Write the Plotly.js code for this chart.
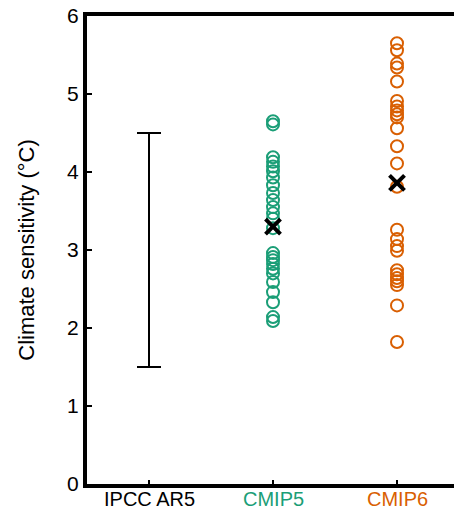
<!DOCTYPE html>
<html>
<head>
<meta charset="utf-8">
<script src="https://cdn.plot.ly/plotly-3.0.1.min.js"></script>
<style>
html,body{margin:0;padding:0;overflow:hidden;background:#fff;}
#chart{width:470px;height:513px;}
</style>
</head>
<body>
<div id="chart"></div>
<script>
var categories = ["IPCC AR5", "CMIP5", "CMIP6"];
var categoryColors = ["#000000", "#1b9e77", "#d95f02"];
var ar5Range = [1.5, 4.5];
var cmip5Values = [4.65, 4.61, 4.19, 4.13, 4.07, 4.01, 3.93, 3.83, 3.73, 3.64, 3.55, 3.47, 3.40, 3.28,
                   2.96, 2.91, 2.87, 2.82, 2.76, 2.70, 2.59, 2.46, 2.33, 2.14, 2.09];
var cmip6Values = [5.65, 5.56, 5.39, 5.34, 5.16, 4.91, 4.84, 4.79, 4.74, 4.70, 4.56, 4.33, 4.11, 3.81,
                   3.26, 3.14, 3.05, 2.99, 2.74, 2.69, 2.64, 2.60, 2.55, 2.29, 1.82];
var ensembleMeans = [3.3, 3.86];

function rep(v, n){ var a=[]; for (var i=0;i<n;i++) a.push(v); return a; }

var ar5Mid = (ar5Range[0] + ar5Range[1]) / 2;
var traces = [
  {
    type: "scatter", mode: "markers",
    x: [categories[0]], y: [ar5Mid],
    marker: {size: 1, opacity: 0},
    error_y: {type: "data", symmetric: false, array: [ar5Range[1]-ar5Mid], arrayminus: [ar5Mid-ar5Range[0]],
              color: "#000", thickness: 2, width: 12},
    hoverinfo: "skip", showlegend: false
  },
  {
    type: "scatter", mode: "markers",
    x: rep(categories[1], cmip5Values.length), y: cmip5Values,
    marker: {symbol: "circle-open", size: 12, color: categoryColors[1], line: {width: 2, color: categoryColors[1]}},
    showlegend: false
  },
  {
    type: "scatter", mode: "markers",
    x: rep(categories[2], cmip6Values.length), y: cmip6Values,
    marker: {symbol: "circle-open", size: 12, color: categoryColors[2], line: {width: 2, color: categoryColors[2]}},
    showlegend: false
  },
  {
    type: "scatter", mode: "markers",
    x: [categories[1], categories[2]], y: ensembleMeans,
    marker: {symbol: "x-thin-open", size: 15, color: "#000", line: {width: 4, color: "#000"}},
    showlegend: false
  }
];

var labelAnnotations = categories.map(function(c, i){
  return {
    xref: "x", yref: "paper", x: c, y: 0,
    xanchor: "center", yanchor: "top", yshift: -3,
    text: c, showarrow: false, borderpad: 0,
    font: {size: 20, color: categoryColors[i], family: "Liberation Sans, Arial, sans-serif"}
  };
});

var layout = {
  width: 470, height: 513,
  margin: {l: 87, r: 11, t: 16, b: 29, pad: 0},
  paper_bgcolor: "#fff", plot_bgcolor: "#fff",
  font: {family: "Liberation Sans, Arial, sans-serif", color: "#000"},
  annotations: labelAnnotations,
  xaxis: {
    type: "category",
    categoryarray: categories, categoryorder: "array",
    range: [-0.5, 2.5],
    tickvals: categories, showticklabels: false,
    showgrid: false, zeroline: false,
    showline: true, linewidth: 4, linecolor: "#000", mirror: true,
    ticks: "inside", ticklen: 4, tickwidth: 1.2, tickcolor: "#000"
  },
  yaxis: {
    range: [0, 6],
    tickvals: [0,1,2,3,4,5,6],
    showgrid: false, zeroline: false,
    showline: true, linewidth: 4, linecolor: "#000", mirror: "ticks",
    ticks: "inside", ticklen: 5, tickwidth: 1.5, tickcolor: "#000",
    tickfont: {size: 21, color: "#000"},
    title: {text: "Climate sensitivity (°C)", font: {size: 22, color: "#000"}, standoff: 27}
  }
};

Plotly.newPlot("chart", traces, layout, {displayModeBar: false, staticPlot: true});
</script>
</body>
</html>
